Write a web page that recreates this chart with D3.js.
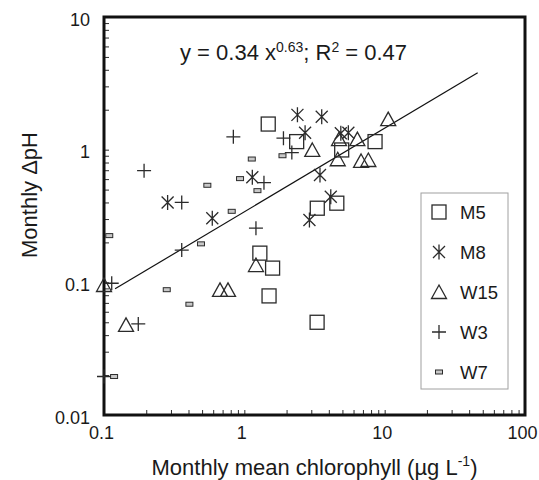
<!DOCTYPE html>
<html>
<head>
<meta charset="utf-8">
<script src="https://cdn.jsdelivr.net/npm/d3@7"></script>
<style>
  body { margin: 0; background: #fff; }
  svg { display: block; font-family: Arial, "Liberation Sans", Helvetica, sans-serif; }
</style>
</head>
<body>
<svg id="chart" width="539" height="480"></svg>
<script>
// data: [chlorophyll, delta pH]
var m5 = [[1.48,1.56],[2.36,1.15],[4.94,0.995],[8.54,1.15],[4.56,0.395],[3.31,0.362],
          [1.29,0.166],[1.59,0.128],[1.50,0.079],[3.3,0.05]];
var m8 = [[2.39,1.83],[3.56,1.77],[2.71,1.34],[4.87,1.33],[5.51,1.34],[1.14,0.62],
          [0.284,0.40],[0.591,0.304],[3.46,0.645],[4.13,0.442],[2.91,0.295]];
var w15 = [[3.05,0.995],[4.73,1.20],[6.39,1.20],[10.6,1.70],[4.63,0.847],[6.79,0.822],
           [7.65,0.836],[1.21,0.135],[0.1,0.0955],[0.671,0.0877],[0.765,0.0877],[0.1435,0.0478]];
var w3 = [[0.835,1.25],[1.90,1.22],[2.18,0.95],[0.193,0.695],[1.38,0.564],[0.358,0.40],
          [1.21,0.256],[0.358,0.175],[0.1135,0.0984],[0.1755,0.0486],[0.1,0.0195]];
var w7 = [[1.87,0.90],[1.13,0.85],[0.932,0.605],[0.545,0.539],[1.24,0.491],[0.813,0.343],
          [0.109,0.225],[0.491,0.195],[0.28,0.088],[0.406,0.0684],[0.118,0.0195]];

var seriesNames = ["M5", "M8", "W15", "W3", "W7"];
var xTickLabels = ["0.1", "1", "10", "100"];
var yTickLabels = ["0.01", "0.1", "1", "10"];
var fitA = 0.34, fitB = 0.63;
var fitRange = [0.12, 46];

var svg = d3.select("#chart");
var plotL = 104, plotR = 525, plotT = 17, plotB = 415;

var x = d3.scaleLog().domain([0.1, 100]).range([plotL, plotR]);
var y = d3.scaleLog().domain([0.01, 10]).range([plotB, plotT]);

var ink = "#2b2b2b";

// minor + major tick values (1..9 per decade)
function decadeTicks(lo, hi) {
    var out = [];
    for (var d = lo; d < hi * 0.999; d *= 10)
        for (var k = 1; k <= 9; k++) out.push(+(d * k).toPrecision(3));
    out.push(hi);
    return out;
}

var xAxis = d3.axisBottom(x)
    .tickValues(decadeTicks(0.1, 100))
    .tickSizeInner(-5).tickSizeOuter(0).tickPadding(11)
    .tickFormat(function(d) {
        var i = xTickLabels.indexOf(String(d));
        return i >= 0 ? xTickLabels[i] : "";
    });

var yAxis = d3.axisLeft(y)
    .tickValues(decadeTicks(0.01, 10))
    .tickSizeInner(-5).tickSizeOuter(0).tickPadding(14)
    .tickFormat(function(d) {
        var i = yTickLabels.indexOf(String(d));
        return i >= 0 ? yTickLabels[i] : "";
    });

var gx = svg.append("g").attr("transform", "translate(0," + plotB + ")").call(xAxis);
var gy = svg.append("g").attr("transform", "translate(" + plotL + ",0)").call(yAxis);
gx.select(".domain").remove();
gy.select(".domain").remove();
[gx, gy].forEach(function(g) {
    g.selectAll("line").attr("stroke", ink).attr("stroke-width", 1);
    g.selectAll("text").attr("fill", "#1a1a1a").style("font-size", "18px")
        .style("font-family", "Arial, 'Liberation Sans', sans-serif");
});
gx.selectAll("text").attr("x", -3);
gy.selectAll("text").attr("dy", "0.45em");

// frame
svg.append("rect")
    .attr("x", plotL).attr("y", plotT)
    .attr("width", plotR - plotL).attr("height", plotB - plotT)
    .attr("fill", "none").attr("stroke", "#111").attr("stroke-width", 3);

// fit line
svg.append("line")
    .attr("x1", x(fitRange[0])).attr("y1", y(fitA * Math.pow(fitRange[0], fitB)))
    .attr("x2", x(fitRange[1])).attr("y2", y(fitA * Math.pow(fitRange[1], fitB)))
    .attr("stroke", "#111").attr("stroke-width", 1.2);

// marker shapes
var shapes = {
    M5: function(g) {
        g.append("rect").attr("x", -7).attr("y", -7).attr("width", 14).attr("height", 14)
            .attr("fill", "none").attr("stroke", ink).attr("stroke-width", 1.3);
    },
    M8: function(g) {
        g.append("path").attr("d", "M0,-7.5L0,7.5M-6,-6L6,6M-6,6L6,-6")
            .attr("fill", "none").attr("stroke", ink).attr("stroke-width", 1.3);
    },
    W15: function(g) {
        g.append("path").attr("d", "M0,-7L7.5,6.5L-7.5,6.5Z")
            .attr("fill", "none").attr("stroke", ink).attr("stroke-width", 1.3);
    },
    W3: function(g) {
        g.append("path").attr("d", "M0,-7L0,7M-7,0L7,0")
            .attr("fill", "none").attr("stroke", ink).attr("stroke-width", 1.3);
    },
    W7: function(g) {
        g.append("rect").attr("x", -3.5).attr("y", -2).attr("width", 7).attr("height", 4)
            .attr("fill", "#c8c8c8").attr("stroke", ink).attr("stroke-width", 1);
    }
};

var allSeries = [m5, m8, w15, w3, w7];
allSeries.forEach(function(data, si) {
    var name = seriesNames[si];
    svg.append("g").selectAll("g")
        .data(data)
        .enter().append("g")
        .attr("transform", function(d) { return "translate(" + x(d[0]) + "," + y(d[1]) + ")"; })
        .each(function() { shapes[name](d3.select(this)); });
});

// legend
var legend = svg.append("g");
legend.append("rect")
    .attr("x", 421).attr("y", 193).attr("width", 87).attr("height", 196)
    .attr("fill", "#fff").attr("stroke", "#a0a0a0").attr("stroke-width", 1);
seriesNames.forEach(function(name, i) {
    var item = legend.append("g").attr("transform", "translate(439," + (212 + i * 40) + ")");
    shapes[name](item);
    item.append("text").attr("x", 21).attr("dy", "0.36em")
        .style("font-size", "18.5px").attr("fill", "#1a1a1a").text(name);
});

// equation
var eq = svg.append("text").attr("x", 180).attr("y", 60)
    .style("font-size", "22px").attr("fill", "#1a1a1a");
eq.append("tspan").text("y = 0.34 x");
eq.append("tspan").attr("dy", -8).style("font-size", "14px").text("0.63");
eq.append("tspan").attr("dy", 8).text("; R");
eq.append("tspan").attr("dy", -8).style("font-size", "14px").text("2");
eq.append("tspan").attr("dy", 8).text(" = 0.47");

// axis titles
var xt = svg.append("text").attr("x", (plotL + plotR) / 2).attr("y", 475)
    .attr("text-anchor", "middle").style("font-size", "22px").attr("fill", "#1a1a1a");
xt.append("tspan").text("Monthly mean chlorophyll (\u00b5g L");
xt.append("tspan").attr("dy", -9).style("font-size", "14px").text("-1");
xt.append("tspan").attr("dy", 9).text(")");

svg.append("text")
    .attr("transform", "translate(37,195) rotate(-90)")
    .attr("text-anchor", "middle").style("font-size", "22px").attr("fill", "#1a1a1a")
    .text("Monthly \u0394pH");
</script>
</body>
</html>
